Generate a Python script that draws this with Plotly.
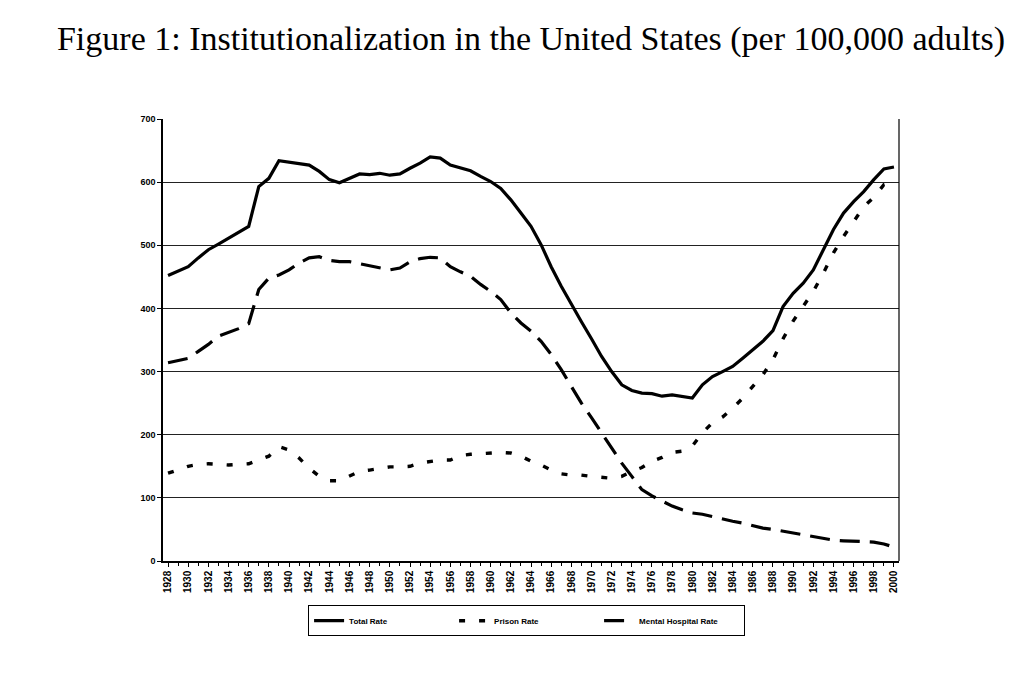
import plotly.graph_objects as go

years = list(range(1928, 2001))

total_rate = [452, 459, 466, 480, 493, 502, 511, 520, 530, 593, 606, 634, 632, 629, 627, 617, 604, 599, 606, 613,
              612, 614, 611, 613, 622, 630, 640, 638, 627, 622, 618, 609, 601, 590, 572, 551, 530, 501, 466, 435,
              406, 379, 352, 324, 300, 279, 270, 266, 265, 261, 263, 260, 258, 279, 292, 300, 308, 321, 335, 348,
              365, 403, 424, 440, 461, 493, 525, 551, 569, 585, 604, 621, 624]

prison_rate = [139, 145, 150, 153, 154, 153, 152, 153, 154, 160, 166, 181, 176, 163, 147, 134, 127, 127, 134, 142,
               144, 146, 149, 149, 150, 155, 158, 160, 160, 167, 169, 170, 171, 172, 171, 166, 158, 152, 144, 138,
               136, 136, 134, 133, 131, 134, 142, 148, 158, 164, 172, 174, 182, 203, 219, 228, 242, 258, 277, 295,
               319, 352, 380, 403, 427, 456, 488, 514, 538, 561, 576, 596, 601]

mental_rate = [314, 318, 321, 332, 343, 356, 362, 368, 376, 430, 448, 453, 461, 472, 480, 482, 476, 474, 474, 471,
               468, 464, 461, 464, 474, 479, 481, 480, 466, 458, 451, 438, 427, 414, 393, 377, 364, 348, 327, 303,
               277, 250, 227, 203, 179, 155, 134, 113, 103, 95, 87, 81, 76, 74, 70, 67, 63, 60, 56, 52,
               50, 47, 45, 42, 38, 35, 33, 32, 31, 30, 30, 27, 22]

tick_years = list(range(1928, 2001, 2))
y_ticks = [0, 100, 200, 300, 400, 500, 600, 700]

fig = go.Figure()
fig.add_trace(go.Scatter(x=years, y=total_rate, mode="lines", name="Total Rate",
                         line=dict(color="black", width=3.2, dash="solid")))
fig.add_trace(go.Scatter(x=years, y=prison_rate, mode="lines", name="Prison Rate",
                         line=dict(color="black", width=3.4, dash="6px,14px")))
fig.add_trace(go.Scatter(x=years, y=mental_rate, mode="lines", name="Mental Hospital Rate",
                         line=dict(color="black", width=3.2, dash="20px,10px")))

fig.update_layout(
    width=1024, height=673,
    paper_bgcolor="white", plot_bgcolor="white",
    margin=dict(l=155, r=133, t=111, b=120),
    title=dict(text="Figure 1: Institutionalization in the United States (per 100,000 adults)",
               x=523 / 1024, xanchor="center", y=1 - 30 / 673, yanchor="middle",
               font=dict(family="Liberation Serif", size=34, color="black")),
    showlegend=True,
    legend=dict(orientation="h", x=0.494, xanchor="center", y=-0.1, yanchor="top",
                bordercolor="black", borderwidth=1, bgcolor="white",
                font=dict(family="Liberation Sans", size=8, color="black", weight="bold"),
                itemwidth=30, entrywidth=100, tracegroupgap=0),
)

fig.update_xaxes(
    range=[1927.5, 2000.5], tickmode="array", tickvals=tick_years,
    ticktext=[str(y) for y in tick_years], tickangle=-90,
    tickfont=dict(family="Liberation Sans", size=10, color="black", weight="bold"),
    showline=True, linecolor="black", linewidth=1.5, mirror=False,
    ticks="outside", ticklen=4, tickcolor="black",
    minor=dict(dtick=1, ticks="outside", ticklen=3, tickcolor="black"),
    showgrid=False, zeroline=False,
)
fig.update_yaxes(
    range=[0, 700], tickmode="array", tickvals=y_ticks,
    tickfont=dict(family="Liberation Sans", size=9, color="black", weight="bold"),
    showline=True, linecolor="black", linewidth=1.5,
    ticks="outside", ticklen=4, tickcolor="black",
    showgrid=True, gridcolor="#222222", gridwidth=1.2, zeroline=False,
)
# right border of plot area
fig.add_shape(type="line", xref="paper", yref="paper", x0=1, x1=1, y0=0, y1=1,
              line=dict(color="black", width=1.2))

fig.write_html("out.html")
